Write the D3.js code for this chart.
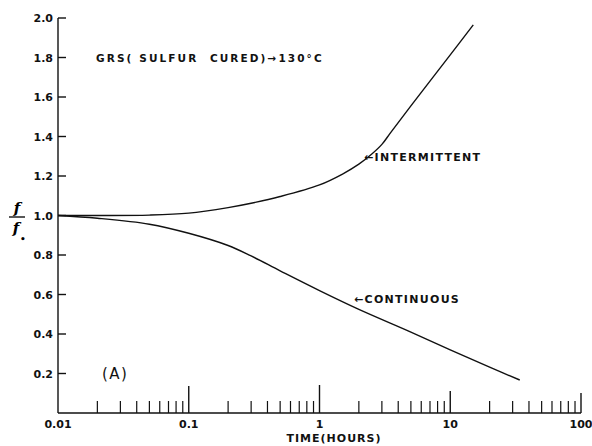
<html>
<head>
<script src="https://d3js.org/d3.v7.min.js"></script>
<style>
  body { margin: 0; background: #fff; }
  svg { font-family: "DejaVu Sans", Arial, sans-serif; }
  .lbl { font-weight: bold; fill: #111; }
  .curve { fill: none; stroke: #111; stroke-width: 1.4; }
  .axis-line { stroke: #111; stroke-width: 1.4; }
</style>
</head>
<body>
<div id="chart"></div>
<script>
// values
var intermittentT = [0.01, 0.02, 0.05, 0.1, 0.2, 0.3, 0.5, 1, 1.5, 2, 2.5, 3, 3.5, 5, 10, 15];
var intermittentV = [1.0, 1.0, 1.002, 1.012, 1.04, 1.062, 1.096, 1.155, 1.21, 1.26, 1.31, 1.36, 1.42, 1.555, 1.813, 1.965];
var continuousT = [0.01, 0.02, 0.05, 0.1, 0.2, 0.3, 0.5, 1, 2, 5, 10, 20, 34];
var continuousV = [1.0, 0.986, 0.956, 0.91, 0.848, 0.795, 0.72, 0.62, 0.525, 0.41, 0.32, 0.232, 0.167];
var yTicks = [0.2, 0.4, 0.6, 0.8, 1.0, 1.2, 1.4, 1.6, 1.8, 2.0];
var xDecades = [0.01, 0.1, 1, 10, 100];
var xDecadeLabels = ["0.01", "0.1", "1", "10", "100"];
var minorMult = [2, 3, 4, 5, 6, 7, 8, 9];

var W = 592, H = 446;
var svg = d3.select("#chart").append("svg")
  .attr("width", W).attr("height", H);

var x = d3.scaleLog().domain([0.01, 100]).range([58, 581]);
var y = d3.scaleLinear().domain([0, 2]).range([413, 18]);

/* axes */
svg.append("line").attr("class", "axis-line")
  .attr("x1", x(0.01)).attr("x2", x(0.01)).attr("y1", y(2)).attr("y2", y(0));
svg.append("line").attr("class", "axis-line")
  .attr("x1", x(0.01)).attr("x2", x(100)).attr("y1", y(0)).attr("y2", y(0));

svg.selectAll(".ytick").data(yTicks).enter().append("line")
  .attr("class", "axis-line")
  .attr("x1", x(0.01)).attr("x2", x(0.01) + 8)
  .attr("y1", d => y(d)).attr("y2", d => y(d));

svg.selectAll(".ylab").data(yTicks).enter().append("text")
  .attr("class", "lbl")
  .attr("x", 53).attr("y", d => y(d) + 4)
  .attr("text-anchor", "end")
  .style("font-size", "11px")
  .text(d => d.toFixed(1));

// minor ticks pointing up from the time axis
var minors = [];
xDecades.slice(0, 4).forEach(function(d) {
  minorMult.forEach(function(m) { minors.push(d * m); });
});
svg.selectAll(".xminor").data(minors).enter().append("line")
  .attr("class", "axis-line").style("stroke-width", 1.2)
  .attr("x1", d => x(d)).attr("x2", d => x(d))
  .attr("y1", y(0)).attr("y2", y(0) - 12);

svg.selectAll(".xmajor").data(xDecades.slice(1)).enter().append("line")
  .attr("class", "axis-line")
  .attr("x1", d => x(d)).attr("x2", d => x(d))
  .attr("y1", y(0)).attr("y2", (d, i) => y(0) - [27, 28, 22, 20][i]);

svg.selectAll(".xlab").data(xDecades).enter().append("text")
  .attr("class", "lbl")
  .attr("x", d => x(d)).attr("y", 428)
  .attr("text-anchor", "middle")
  .style("font-size", "11px")
  .text((d, i) => xDecadeLabels[i]);

svg.append("text").attr("class", "lbl")
  .attr("x", 334).attr("y", 442)
  .attr("text-anchor", "middle")
  .style("font-size", "11px").style("letter-spacing", "1px")
  .text("TIME(HOURS)");

/* f / f0 label */
svg.append("text")
  .attr("x", 17).attr("y", 213).attr("text-anchor", "middle")
  .style("font-family", "DejaVu Serif, serif").style("font-style", "italic")
  .style("font-weight", "bold").style("font-size", "15px")
  .text("f");
svg.append("line").attr("class", "axis-line")
  .attr("x1", 9).attr("x2", 25).attr("y1", 217).attr("y2", 217);
svg.append("text")
  .attr("x", 16).attr("y", 233).attr("text-anchor", "middle")
  .style("font-family", "DejaVu Serif, serif").style("font-style", "italic")
  .style("font-weight", "bold").style("font-size", "15px")
  .text("f");
svg.append("text")
  .attr("x", 23).attr("y", 242).attr("text-anchor", "middle")
  .style("font-size", "9px").style("font-weight", "bold")
  .text("•");

/* curves */
var line = d3.line()
  .x(d => x(d[0]))
  .y(d => y(d[1]))
  .curve(d3.curveCatmullRom.alpha(0.5));

svg.append("path").attr("class", "curve")
  .attr("d", line(d3.zip(intermittentT, intermittentV)));
svg.append("path").attr("class", "curve")
  .attr("d", line(d3.zip(continuousT, continuousV)));

/* annotations */
svg.append("text").attr("class", "lbl")
  .attr("x", 96).attr("y", 62)
  .style("white-space", "pre")
  .style("font-size", "10.5px").style("letter-spacing", "2.1px")
  .text("GRS( SULFUR  CURED)\u2192130\u00B0C");

svg.append("text").attr("class", "lbl")
  .attr("x", 364).attr("y", 161)
  .style("font-size", "11px").style("letter-spacing", "1.3px")
  .text("\u2190INTERMITTENT");

svg.append("text").attr("class", "lbl")
  .attr("x", 354).attr("y", 303)
  .style("font-size", "11px").style("letter-spacing", "1.3px")
  .text("\u2190CONTINUOUS");

svg.append("text")
  .attr("x", 102).attr("y", 379)
  .style("font-size", "15px").style("letter-spacing", "1.5px")
  .style("fill", "#111")
  .text("(A)");
</script>
</body>
</html>
